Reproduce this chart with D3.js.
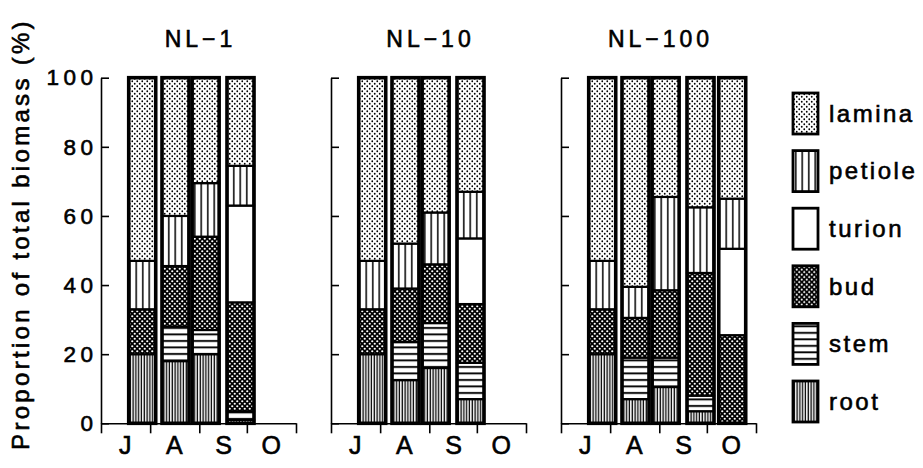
<!DOCTYPE html>
<html>
<head>
<meta charset="utf-8">
<script src="https://cdn.jsdelivr.net/npm/d3@7"></script>
<style>
  body { margin: 0; background: #fff; }
  text { font-family: "Liberation Sans", Arial, sans-serif; fill: #000; stroke: #000; stroke-width: 0.6px; }
</style>
</head>
<body>
<div id="chart"></div>
<script>
// Plant parts, stacked bottom -> top
const parts = ["root", "stem", "bud", "turion", "petiole", "lamina"];
const legendOrder = ["lamina", "petiole", "turion", "bud", "stem", "root"];
const panelNames = ["NL\u22121", "NL\u221210", "NL\u2212100"];
const monthLabels = ["J", "A", "S", "O"];
const monthStarts = ["1985-07-01", "1985-08-01", "1985-09-01", "1985-10-01", "1985-11-01"];
const monthMids = ["1985-07-16", "1985-08-16", "1985-09-16", "1985-10-16"];
const yTicks = [0, 20, 40, 60, 80, 100];

// sampling dates
const sampleDates = ["1985-07-27", "1985-08-17", "1985-09-05", "1985-09-27", "1985-10-17"];

// % of total biomass per sample: root, stem, bud, turion, petiole, lamina
const nl1Values = [
  [20, 0, 13, 0, 14, 53],
  [18, 10, 17.5, 0, 14.5, 40],
  [20, 7, 27, 0, 15.5, 30.5],
  [1, 2.5, 31.5, 28, 11.5, 25.5]
];
const nl10Values = [
  [20, 0, 13, 0, 14, 53],
  [12.5, 11, 15.5, 0, 13, 48],
  [16, 13, 17, 0, 15, 39],
  [7, 10.5, 17, 19, 13.5, 33]
];
const nl100Values = [
  [20, 0, 13, 0, 14, 53],
  [7, 12, 11.5, 0, 9, 60.5],
  [10.5, 8.5, 19.5, 0, 27, 34.5],
  [3.5, 4.5, 35.5, 0, 19, 37.5],
  [0, 0, 25.5, 25, 14.5, 35]
];
const panelValues = [nl1Values, nl10Values, nl100Values];

const W = 923, H = 468;
const panelLeft = [101, 331, 561];
const panelWidth = 195;
const yTop = 77.7, yBottom = 423.3;
const barWidth = 27;

const svg = d3.select("#chart").append("svg")
  .attr("width", W).attr("height", H);

// fill patterns
const defs = svg.append("defs");
function pattern(id, w, h, draw) {
  const p = defs.append("pattern").attr("id", id)
    .attr("patternUnits", "userSpaceOnUse").attr("width", w).attr("height", h);
  draw(p);
}
pattern("lamina", 5, 5, p => {
  p.append("rect").attr("width", 5).attr("height", 5).attr("fill", "#fff");
  p.append("circle").attr("cx", 1.25).attr("cy", 1.25).attr("r", 0.9).attr("fill", "#000");
  p.append("circle").attr("cx", 3.75).attr("cy", 3.75).attr("r", 0.9).attr("fill", "#000");
});
pattern("bud", 5, 5, p => {
  p.append("rect").attr("width", 5).attr("height", 5).attr("fill", "#000");
  p.append("circle").attr("cx", 1.25).attr("cy", 1.25).attr("r", 1.1).attr("fill", "#fff");
  p.append("circle").attr("cx", 3.75).attr("cy", 3.75).attr("r", 1.1).attr("fill", "#fff");
});
pattern("petiole", 6.5, 6, p => {
  p.append("rect").attr("width", 6.5).attr("height", 6).attr("fill", "#fff");
  p.append("rect").attr("x", 2).attr("width", 1.5).attr("height", 6).attr("fill", "#000");
});
pattern("root", 2.8, 6, p => {
  p.append("rect").attr("width", 2.8).attr("height", 6).attr("fill", "#fff");
  p.append("rect").attr("x", 0.6).attr("width", 1.3).attr("height", 6).attr("fill", "#000");
});
pattern("stem", 6, 6.5, p => {
  p.append("rect").attr("width", 6).attr("height", 6.5).attr("fill", "#fff");
  p.append("rect").attr("y", 2).attr("width", 6).attr("height", 1.9).attr("fill", "#000");
});
const fillOf = k => k === "turion" ? "#fff" : `url(#${k})`;

const parseDate = d3.utcParse("%Y-%m-%d");
const y = d3.scaleLinear().domain([0, 100]).range([yBottom, yTop]);
const stack = d3.stack().keys(parts);

panelValues.forEach((values, pi) => {
  const g = svg.append("g").attr("transform", `translate(${panelLeft[pi]},0)`);
  const x = d3.scaleUtc()
    .domain([parseDate(monthStarts[0]), parseDate(monthStarts[4])])
    .range([0, panelWidth]);

  const rows = values.map((v, i) => {
    const r = { date: parseDate(sampleDates[i]) };
    parts.forEach((k, j) => r[k] = v[j]);
    return r;
  });
  const series = stack(rows);

  // segments
  series.forEach(s => {
    g.selectAll(null)
      .data(s.filter(d => d[1] - d[0] > 0))
      .enter().append("rect")
      .attr("x", d => x(d.data.date) - barWidth / 2)
      .attr("y", d => y(d[1]))
      .attr("width", barWidth)
      .attr("height", d => y(d[0]) - y(d[1]))
      .attr("fill", fillOf(s.key))
      .attr("stroke", "#000")
      .attr("stroke-width", 2.2);
  });

  // bar outlines
  g.selectAll(".outline")
    .data(rows)
    .enter().append("rect")
    .attr("class", "outline")
    .attr("x", d => x(d.date) - barWidth / 2)
    .attr("y", y(100))
    .attr("width", barWidth)
    .attr("height", y(0) - y(100))
    .attr("fill", "none")
    .attr("stroke", "#000")
    .attr("stroke-width", 3.6);

  // y axis (inward ticks)
  const yAxis = d3.axisLeft(y).tickValues(yTicks)
    .tickSizeInner(-8).tickSizeOuter(0).tickPadding(8)
    .tickFormat(pi === 0 ? d3.format("d") : "");
  const ya = g.append("g").call(yAxis);
  ya.selectAll("text")
    .style("font-size", "22.5px")
    .style("letter-spacing", "4.5px")
    .attr("dx", "4.5px");

  // x axis (month boundaries, ticks down)
  const xAxis = d3.axisBottom(x).tickValues(monthStarts.map(parseDate))
    .tickSizeInner(10).tickSizeOuter(0).tickFormat("");
  g.append("g").attr("transform", `translate(0,${yBottom})`).call(xAxis);

  // month labels
  const mAxis = d3.axisBottom(x).tickValues(monthMids.map(parseDate))
    .tickSize(0).tickPadding(13).tickFormat((d, i) => monthLabels[i]);
  const ma = g.append("g").attr("transform", `translate(0,${yBottom})`).call(mAxis);
  ma.select(".domain").remove();
  ma.selectAll("text").style("font-size", "25px");

  g.selectAll("g path, g line").attr("stroke", "#000").attr("stroke-width", 1.6);
  g.selectAll(".tick text").attr("fill", "#000").attr("font-family", null);

  // title
  g.append("text")
    .attr("x", panelWidth / 2 + 2)
    .attr("y", 47)
    .attr("text-anchor", "middle")
    .style("font-size", "23px")
    .style("letter-spacing", "4px")
    .text(panelNames[pi]);
});

// y axis title
svg.append("text")
  .attr("transform", "translate(29,234) rotate(-90)")
  .attr("text-anchor", "middle")
  .style("font-size", "24px")
  .style("letter-spacing", "3.3px")
  .text("Proportion of total biomass (%)");

// legend
const legendStep = 57.6;
const lg = svg.append("g").attr("transform", "translate(793,93)");
const items = lg.selectAll("g").data(legendOrder).enter().append("g")
  .attr("transform", (d, i) => `translate(0,${i * legendStep})`);
items.append("rect")
  .attr("width", 25).attr("height", 41)
  .attr("fill", d => fillOf(d))
  .attr("stroke", "#000").attr("stroke-width", 2.8);
items.append("text")
  .attr("x", 36).attr("y", 20.5)
  .attr("dy", "0.35em")
  .style("font-size", "24px")
  .style("letter-spacing", "2.5px")
  .text(d => d);
</script>
</body>
</html>
